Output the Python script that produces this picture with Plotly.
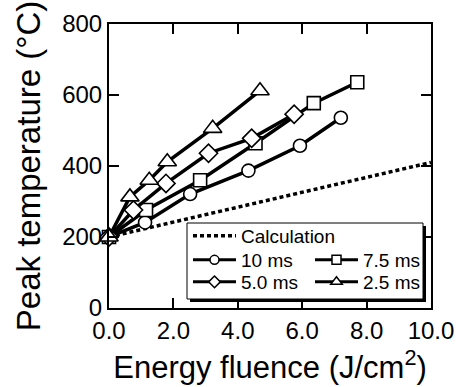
import plotly.graph_objects as go

# ---- data ----
calc_x = [0.0, 10.0]
calc_y = [200, 410]

x_10ms = [0.0, 1.12, 2.52, 4.33, 5.93, 7.2]
y_10ms = [200, 241, 321, 387, 457, 536]

x_75ms = [0.0, 1.15, 2.83, 4.55, 6.36, 7.71]
y_75ms = [200, 276, 360, 464, 577, 636]

x_50ms = [0.0, 0.76, 1.77, 3.09, 4.43, 5.75]
y_50ms = [200, 276, 351, 436, 478, 546]

x_25ms = [0.0, 0.65, 1.25, 1.81, 3.22, 4.69]
y_25ms = [200, 313, 360, 412, 506, 612]

x_ticks = [0, 2, 4, 6, 8, 10]
y_ticks = [0, 200, 400, 600, 800]

FONT = "Liberation Sans, Arial, Helvetica, sans-serif"

fig = go.Figure()

fig.add_trace(go.Scatter(
    x=calc_x, y=calc_y, mode="lines", name="Calculation",
    line=dict(color="black", width=3.5, dash="4px,3px"),
    showlegend=False, cliponaxis=False))

series = [
    ("10 ms", x_10ms, y_10ms, "circle", 13, "legend2"),
    ("7.5 ms", x_75ms, y_75ms, "square", 13, "legend3"),
    ("5.0 ms", x_50ms, y_50ms, "diamond", 14, "legend4"),
    ("2.5 ms", x_25ms, y_25ms, "triangle-up", 16, "legend5"),
]
for name, xs, ys, sym, size, lg in series:
    fig.add_trace(go.Scatter(
        x=xs, y=ys, mode="lines+markers", name=name,
        line=dict(color="black", width=3.5),
        marker=dict(symbol=sym, size=size, color="white",
                    line=dict(color="black", width=1.6)),
        showlegend=False, cliponaxis=False))

# legend-only entries (smaller symbols as in the reference legend)
fig.add_trace(go.Scatter(
    x=[None], y=[None], mode="lines", name="Calculation",
    line=dict(color="black", width=3.5, dash="4px,3px"), legend="legend"))
for name, xs, ys, sym, size, lg in series:
    fig.add_trace(go.Scatter(
        x=[None], y=[None], mode="lines+markers", name=name,
        line=dict(color="black", width=3),
        marker=dict(symbol=sym, size=9 if sym != "triangle-up" else 10, color="white",
                    line=dict(color="black", width=1.5)),
        legend=lg))

axis_common = dict(
    showline=True, linecolor="black", linewidth=2, mirror="ticks",
    ticks="inside", ticklen=10, tickwidth=1.5, tickcolor="black",
    showgrid=False, zeroline=False,
    tickfont=dict(family=FONT, size=24, color="black"),
)

fig.update_xaxes(range=[0, 10], tickvals=x_ticks, tickformat=".1f",
                 title=dict(text="Energy fluence (J/cm<sup>2</sup>)",
                            font=dict(family=FONT, size=31, color="black"),
                            standoff=14),
                 **axis_common)
fig.update_yaxes(range=[0, 800], tickvals=y_ticks,
                 title=dict(text="Peak temperature (°C)",
                            font=dict(family=FONT, size=33, color="black"),
                            standoff=12),
                 **axis_common)

# legend frame with drop shadow
def px2paper_x(px):
    return (px - 109) / 322.0

def px2paper_y(py):
    return (308 - py) / 284.0

fig.add_shape(type="rect", xref="paper", yref="paper",
              x0=px2paper_x(190), x1=px2paper_x(426),
              y0=px2paper_y(302), y1=px2paper_y(226),
              fillcolor="black", line=dict(width=0), layer="above")
fig.add_shape(type="rect", xref="paper", yref="paper",
              x0=px2paper_x(187), x1=px2paper_x(423),
              y0=px2paper_y(299), y1=px2paper_y(223),
              fillcolor="white", line=dict(color="black", width=1), layer="above")

leg_font = dict(family=FONT, size=19, color="black")
def leg(px, py):
    return dict(x=px2paper_x(px), y=px2paper_y(py), xanchor="left", yanchor="middle",
                xref="paper", yref="paper", bgcolor="rgba(0,0,0,0)", borderwidth=0,
                font=leg_font, itemwidth=43)

fig.update_layout(
    width=460, height=387,
    margin=dict(l=109, r=29, t=24, b=79, autoexpand=False),
    paper_bgcolor="white", plot_bgcolor="white",
    font=dict(family=FONT, color="black"),
    showlegend=True,
    legend=leg(188, 236),
    legend2=leg(188, 260),
    legend3=leg(310, 260),
    legend4=leg(188, 282),
    legend5=leg(310, 282),
)

fig.write_html("out.html")
